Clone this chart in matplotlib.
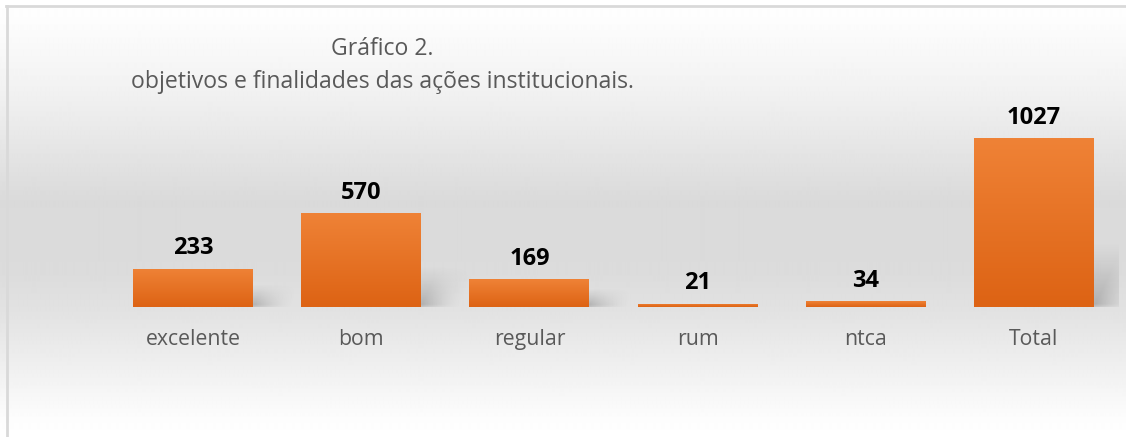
"""Gráfico 2 - objetivos e finalidades das ações institucionais."""
import matplotlib

matplotlib.use("Agg")
import matplotlib.pyplot as plt
import numpy as np
from matplotlib.colors import LinearSegmentedColormap

categories = ["excelente", "bom", "regular", "rum", "ntca", "Total"]
counts = [233, 570, 169, 21, 34, 1027]

title_lines = ["Gráfico 2.", "objetivos e finalidades das ações institucionais."]

W, H = 1126, 437
plt.rcParams["font.family"] = ["Open Sans", "DejaVu Sans"]

fig = plt.figure(figsize=(W / 100, H / 100), dpi=100)

# background: white -> gray -> white vertical gradient
bg = fig.add_axes([0, 0, 1, 1], zorder=-10)
rows = np.linspace(0, 1, H)
shade = np.interp(rows, [0, 0.05, 0.18, 0.27, 0.46, 0.62, 0.71, 0.82, 0.96, 1.0],
                  [1.0, 0.99, 0.955, 0.925, 0.855, 0.86, 0.885, 0.93, 0.99, 1.0])
bg.imshow(np.repeat(shade[:, None], 4, axis=1), cmap="gray", vmin=0, vmax=1,
          aspect="auto", extent=[0, 1, 0, 1], interpolation="bilinear")
# chart border (only top and left visible in the crop)
bg.plot([6 / W, 1], [1 - 6 / H, 1 - 6 / H], color="#d9d9d9", lw=2)
bg.plot([7 / W, 7 / W], [0, 1 - 6 / H], color="#d9d9d9", lw=2)
bg.set_xlim(0, 1)
bg.set_ylim(0, 1)
bg.axis("off")

ax_left, ax_right = 109 / W, 1118 / W
base_px = 307
ymax = 1200
px_per_unit = 169 / 1027
ax_h = ymax * px_per_unit / H
ax = fig.add_axes([ax_left, (H - base_px) / H, ax_right - ax_left, ax_h])
ax.set_facecolor("none")

x = np.arange(len(categories))
bar_w = 0.713
bars = ax.bar(x, counts, width=bar_w, color="#e9722a", zorder=3)
ax.set_xlim(-0.5, len(categories) - 0.5)
ax.set_ylim(0, ymax)

# vertical orange gradient inside every bar
orange = LinearSegmentedColormap.from_list("orange", ["#dd6314", "#ef8236"])
grad = np.linspace(0, 1, 64)[:, None]
for rect in bars:
    rect.set_facecolor("none")
    x0, w, h = rect.get_x(), rect.get_width(), rect.get_height()
    im = ax.imshow(grad, cmap=orange, origin="lower", aspect="auto",
                   extent=[x0, x0 + w, 0, h], zorder=3, interpolation="bilinear")
    im.set_clip_path(rect)

# soft floor shadow to the right of each bar
x_unit_px = (ax_right - ax_left) * W / len(categories)
for rect in bars:
    h_px = rect.get_height() * px_per_unit
    sh = min(0.32 * h_px, 55)
    if sh < 4:
        continue
    dx = np.linspace(-10, 55, 80)
    dy = np.linspace(-4, sh + 10, 60)
    DX, DY = np.meshgrid(dx, dy)
    fade_x = np.clip(1 - (DX - 0.45 * np.clip(DY, 0, None)) / 40, 0, 1) ** 1.6
    fade_x *= np.clip((DX + 10) / 10, 0, 1)
    fade_y = np.clip(DY / 6 + 0.6, 0, 1) * np.clip(1 - DY / (sh + 10), 0, 1) ** 1.2
    alpha = 0.38 * fade_x * fade_y
    rgba = np.zeros(alpha.shape + (4,))
    rgba[..., :3] = 0.35
    rgba[..., 3] = alpha
    xr = rect.get_x() + rect.get_width()
    ax.imshow(rgba, origin="lower", aspect="auto", interpolation="bilinear",
              extent=[xr - 10 / x_unit_px, xr + 55 / x_unit_px,
                      -4 / px_per_unit, (sh + 10) / px_per_unit],
              zorder=2)
ax.set_xlim(-0.5, len(categories) - 0.5)
ax.set_ylim(0, ymax)

ax.bar_label(bars, labels=[str(v) for v in counts], padding=6,
             fontsize=17, fontweight="bold", color="black")

ax.set_xticks(x)
ax.set_xticklabels(categories, fontsize=15.3, color="#595959")
ax.tick_params(axis="x", length=0, pad=16)
ax.set_yticks([])
for side in ax.spines.values():
    side.set_visible(False)

fig.text(382 / W, 1 - 49 / H, title_lines[0], ha="center", va="center",
         fontsize=16.6, color="#595959")
fig.text(382 / W, 1 - 82 / H, title_lines[1], ha="center", va="center",
         fontsize=16.6, color="#595959")

fig.savefig("out.png", dpi=100)
